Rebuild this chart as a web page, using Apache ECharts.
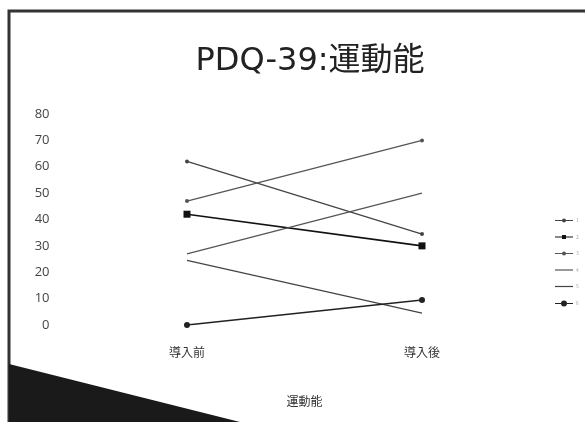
<!DOCTYPE html>
<html>
<head>
<meta charset="utf-8">
<script src="https://cdn.jsdelivr.net/npm/echarts@6/dist/echarts.min.js"></script>
<style>
  html, body { margin: 0; padding: 0; background: #fff; }
  #chart { width: 585px; height: 422px; }
</style>
</head>
<body>
<div id="chart"></div>
<script>
// 横軸カテゴリ
const categories = ['導入前', '導入後'];
// 各患者の値（運動能）
const names = ['1', '2', '3', '4', '5', '6'];
const p1 = [62, 34.5];
const p2 = [42, 30];
const p3 = [47, 70];
const p4 = [27, 50];
const p5 = [24.5, 4.5];
const p6 = [0, 9.5];
const yTicks = [0, 10, 20, 30, 40, 50, 60, 70, 80];

const font = '"Noto Sans CJK JP", "Noto Sans", sans-serif';

// 凡例アイコン（線＋マーカー）
const LINE = 'M0,3.4H18V4.6H0Z';
const icons = [
    'path://' + LINE + 'M9,2A2,2 0 1 1 8.99,2Z',
    'path://' + LINE + 'M7,2H11V6H7Z',
    'path://' + LINE + 'M9,2A2,2 0 1 1 8.99,2Z',
    'path://' + LINE,
    'path://' + LINE,
    'path://' + LINE + 'M9,1A3,3 0 1 1 8.99,1Z'
];

function line(name, data, symbol, size, color, width) {
    return {
        name: name,
        type: 'line',
        data: data,
        symbol: symbol,
        symbolSize: size,
        showSymbol: symbol !== 'none',
        lineStyle: { color: color, width: width },
        itemStyle: { color: color },
        emphasis: { disabled: true }
    };
}

const chart = echarts.init(document.getElementById('chart'));
chart.setOption({
    animation: false,
    backgroundColor: '#fff',
    title: {
        text: 'PDQ-39:運動能',
        top: 41,
        left: 305,
        textAlign: 'center',
        textStyle: { fontFamily: '"DejaVu Sans", "Noto Sans CJK JP", sans-serif', fontSize: 32, fontWeight: 'normal', color: '#222' }
    },
    legend: {
        orient: 'vertical',
        left: 550,
        top: 213,
        itemWidth: 18,
        itemHeight: 8,
        itemGap: 11.5,
        symbolKeepAspect: true,
        textStyle: { fontSize: 5, color: '#aaa', fontFamily: font, padding: [0, 0, 0, -2] },
        data: names.map((n, i) => ({ name: n, icon: icons[i] }))
    },
    grid: { left: 69.5, width: 470, top: 114, bottom: 97 },
    xAxis: {
        type: 'category',
        data: categories,
        name: '運動能',
        nameLocation: 'middle',
        nameGap: 70,
        nameTextStyle: { fontFamily: font, fontSize: 12, color: '#333' },
        axisLine: { show: false },
        axisTick: { show: false },
        axisLabel: { fontFamily: font, fontSize: 12, color: '#333', margin: 21 }
    },
    yAxis: {
        type: 'value',
        min: yTicks[0],
        max: yTicks[yTicks.length - 1],
        interval: 10,
        splitLine: { show: false },
        axisLine: { show: false },
        axisTick: { show: false },
        axisLabel: { fontFamily: '"Open Sans", sans-serif', fontSize: 13, color: '#444', margin: 20 }
    },
    series: [
        line(names[0], p1, 'circle', 4, '#444', 1.3),
        line(names[1], p2, 'rect', 7, '#111', 1.6),
        line(names[2], p3, 'circle', 4, '#555', 1.3),
        line(names[3], p4, 'none', 0, '#555', 1.3),
        line(names[4], p5, 'none', 0, '#444', 1.3),
        line(names[5], p6, 'circle', 6, '#222', 1.5)
    ],
    graphic: [
        // 写真の枠とフチ
        { type: 'polyline', shape: { points: [[9, 422], [9, 11], [585, 11]] },
          style: { stroke: '#333', lineWidth: 3, fill: null } },
        { type: 'polygon', shape: { points: [[9, 364], [240, 422], [9, 422]] },
          style: { fill: '#1a1a1a' } }
    ]
});
</script>
</body>
</html>
